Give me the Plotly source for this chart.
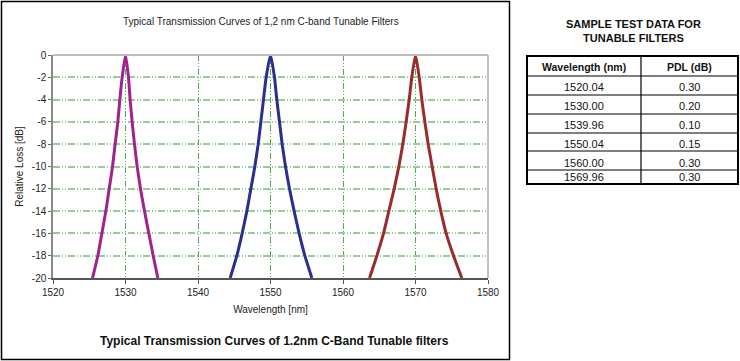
import plotly.graph_objects as go

W, H = 740, 361

# ---- data ----
loss_db = [-20, -18, -16, -14, -12, -10, -8, -6, -4, -2, 0,
           -2, -4, -6, -8, -10, -12, -14, -16, -18, -20]
wl_1530 = [1525.45, 1526.18, 1526.74, 1527.29, 1527.75, 1528.21, 1528.57, 1528.94, 1529.22, 1529.54, 1530.00,
           1530.41, 1530.64, 1530.92, 1531.24, 1531.61, 1532.07, 1532.62, 1533.22, 1533.82, 1534.46]
wl_1550 = [1544.44, 1545.36, 1546.09, 1546.74, 1547.29, 1547.84, 1548.30, 1548.67, 1549.03, 1549.40, 1550.00,
           1550.55, 1550.87, 1551.24, 1551.61, 1552.07, 1552.62, 1553.26, 1553.95, 1554.74, 1555.70]
wl_1570 = [1563.66, 1564.67, 1565.59, 1566.32, 1567.06, 1567.70, 1568.25, 1568.71, 1569.13, 1569.49, 1570.00,
           1570.51, 1570.87, 1571.29, 1571.75, 1572.30, 1572.85, 1573.49, 1574.23, 1575.24, 1576.39]

x_ticks = [1520, 1530, 1540, 1550, 1560, 1570, 1580]
y_ticks = [0, -2, -4, -6, -8, -10, -12, -14, -16, -18, -20]
y_tick_labels = ["0", "-2", "-4", "-6", "-8", "-10", "-12", "-14", "-16", "-18", "-20"]

table_wavelengths = ["1520.04", "1530.00", "1539.96", "1550.04", "1560.00", "1569.96"]
table_pdl = ["0.30", "0.20", "0.10", "0.15", "0.30", "0.30"]
table_headers = ["Wavelength (nm)", "PDL (dB)"]

chart_title = "Typical Transmission Curves of 1,2 nm C-band Tunable Filters"
caption = "Typical Transmission Curves of 1.2nm C-Band Tunable filters"
table_title = "SAMPLE TEST DATA FOR<br>TUNABLE FILTERS"

FONT = "Liberation Sans, Arial, sans-serif"


def px(x):
    return x / W


def py(y):
    return 1 - y / H


fig = go.Figure()
for wl, col in [(wl_1530, "#A0228D"), (wl_1550, "#2B2E8F"), (wl_1570, "#9A2B2C")]:
    fig.add_trace(go.Scatter(x=wl, y=loss_db, mode="lines",
                             line=dict(color=col, width=3, shape="spline", smoothing=0.5),
                             showlegend=False, hoverinfo="skip"))

# plot area: x 53..488 px, y 55..278 px
fig.update_layout(
    template="none",
    width=W, height=H,
    margin=dict(l=0, r=0, t=0, b=0, pad=0, autoexpand=False),
    paper_bgcolor="white", plot_bgcolor="white",
    font=dict(family=FONT, size=10, color="#222"),
    xaxis=dict(domain=[px(53), px(488)], range=[1520, 1580], tickvals=x_ticks, automargin=False,
               showgrid=True, gridcolor="#4FAA4F", gridwidth=1, griddash="6px,2px,1px,2px,1px,2px",
               showline=True, linecolor="#555", linewidth=1.5,
               ticks="outside", ticklen=4, tickcolor="#555",
               tickfont=dict(size=10, color="#222"), zeroline=False,
               title=dict(text="Wavelength [nm]", font=dict(size=10, color="#222"), standoff=9)),
    yaxis=dict(domain=[py(278), py(55)], range=[-20, 0], tickvals=y_ticks, ticktext=y_tick_labels,
               automargin=False,
               showgrid=True, gridcolor="#93CF93", gridwidth=1.5, griddash="7px,2px,1px,2px,1px,2px",
               showline=True, linecolor="#888", linewidth=1.5,
               ticks="outside", ticklen=3, tickcolor="#666",
               tickfont=dict(size=10, color="#222"), zeroline=False,
               title=dict(text="Relative Loss [dB]", font=dict(size=10, color="#222"), standoff=6)),
)

shapes = []
# top and right plot border (light gray)
shapes.append(dict(type="line", xref="paper", yref="paper", x0=px(53), x1=px(488), y0=py(55), y1=py(55),
                   line=dict(color="#BEBEBE", width=2)))
shapes.append(dict(type="line", xref="paper", yref="paper", x0=px(488), x1=px(488), y0=py(55), y1=py(278),
                   line=dict(color="#BEBEBE", width=2)))
# outer left panel frame
shapes.append(dict(type="rect", xref="paper", yref="paper", x0=px(1.5), x1=px(509.5), y0=py(1.5), y1=py(359.5),
                   line=dict(color="black", width=1.5)))

# table geometry
tx0, tsplit, tx1 = 527, 641, 738
row_lines = [56, 76, 95, 114, 133, 151, 170, 184]
shapes.append(dict(type="rect", xref="paper", yref="paper", x0=px(tx0), x1=px(tx1), y0=py(row_lines[0]),
                   y1=py(row_lines[-1]), line=dict(color="black", width=2)))
for yy in row_lines[1:-1]:
    shapes.append(dict(type="line", xref="paper", yref="paper", x0=px(tx0), x1=px(tx1), y0=py(yy), y1=py(yy),
                       line=dict(color="black", width=1.2)))
shapes.append(dict(type="line", xref="paper", yref="paper", x0=px(tsplit), x1=px(tsplit), y0=py(row_lines[0]),
                   y1=py(row_lines[-1]), line=dict(color="black", width=1.2)))
fig.update_layout(shapes=shapes)

ann = []
ann.append(dict(text=chart_title, x=px(261), y=py(22), xref="paper", yref="paper", showarrow=False,
                font=dict(size=10, color="#222"), xanchor="center", yanchor="middle"))
ann.append(dict(text="<b>" + caption + "</b>", x=px(274), y=py(341), xref="paper", yref="paper",
                showarrow=False, font=dict(size=12, color="#111"), xanchor="center", yanchor="middle"))
ann.append(dict(text="<b>" + table_title + "</b>", x=px(633), y=py(31), xref="paper", yref="paper",
                showarrow=False, font=dict(size=11, color="#111"), xanchor="center", yanchor="middle"))

c1, c2 = (tx0 + tsplit) / 2, (tsplit + tx1) / 2
ann.append(dict(text="<b>" + table_headers[0] + "</b>", x=px(c1), y=py(67), xref="paper", yref="paper",
                showarrow=False, font=dict(size=10.5, color="#111"), xanchor="center", yanchor="middle"))
ann.append(dict(text="<b>" + table_headers[1] + "</b>", x=px(c2), y=py(67), xref="paper", yref="paper",
                showarrow=False, font=dict(size=10.5, color="#111"), xanchor="center", yanchor="middle"))
row_text_y = [87, 106, 125, 144, 163, 176.5]
for wl, pdl, yy in zip(table_wavelengths, table_pdl, row_text_y):
    ann.append(dict(text=wl, x=px(c1), y=py(yy), xref="paper", yref="paper", showarrow=False,
                    font=dict(size=11, color="#111"), xanchor="center", yanchor="middle"))
    ann.append(dict(text=pdl, x=px(c2), y=py(yy), xref="paper", yref="paper", showarrow=False,
                    font=dict(size=11, color="#111"), xanchor="center", yanchor="middle"))
fig.update_layout(annotations=ann)

fig.write_html("out.html", config={"displayModeBar": False},
               post_script="document.body.style.margin='0';document.body.style.overflow='hidden';")
